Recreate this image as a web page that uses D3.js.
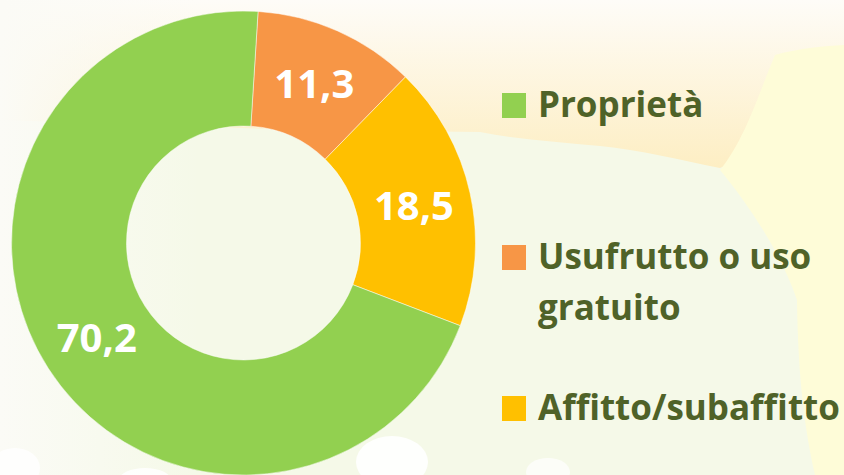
<!DOCTYPE html>
<html>
<head>
<meta charset="utf-8">
<script src="https://cdn.jsdelivr.net/npm/d3@7"></script>
<style>
  html, body { margin: 0; padding: 0; background: #f5f9e8; }
  svg { display: block; }
</style>
</head>
<body>
<svg id="chart" width="844" height="475"></svg>
<script>
// ---- data ----
const categories = ["Proprietà", "Usufrutto o uso gratuito", "Affitto/subaffitto"];
const values = [70.2, 11.3, 18.5];
const valueLabels = ["70,2", "11,3", "18,5"];
const legendLines = [["Proprietà"], ["Usufrutto o uso", "gratuito"], ["Affitto/subaffitto"]];
const colors = ["#92d050", "#f79646", "#ffc000"];
// slice drawing order (clockwise from top): orange, yellow, green
const sliceOrder = [1, 2, 0];

const W = 844, H = 475;
const svg = d3.select("#chart");

// ---- background decoration ----
const defs = svg.append("defs");
const g1 = defs.append("linearGradient").attr("id", "topGrad")
  .attr("x1", 0).attr("y1", 0).attr("x2", 0).attr("y2", 1);
g1.append("stop").attr("offset", "0%").attr("stop-color", "#fefcf8");
g1.append("stop").attr("offset", "100%").attr("stop-color", "#fdeec3");
const g2 = defs.append("linearGradient").attr("id", "leftGrad")
  .attr("x1", 0).attr("y1", 0).attr("x2", 1).attr("y2", 0);
g2.append("stop").attr("offset", "0%").attr("stop-color", "#fbfbf6");
g2.append("stop").attr("offset", "100%").attr("stop-color", "#fbfbf6").attr("stop-opacity", 0);

const bg = svg.append("g");
bg.append("rect").attr("width", W).attr("height", H).attr("fill", "#f5f9e8");
// top warm band
bg.append("path")
  .attr("d", "M0,0 L844,0 L844,150 C800,152 760,150 720,168 C680,160 640,150 600,146 C560,142 520,140 480,132 L300,130 L0,120 Z")
  .attr("fill", "url(#topGrad)");
// left whitish area
bg.append("rect").attr("x", 0).attr("y", 0).attr("width", 200).attr("height", H)
  .attr("fill", "url(#leftGrad)");
// right pale yellow region
bg.append("path")
  .attr("d", "M775,55 C800,48 825,46 844,45 L844,475 L815,475 C805,430 798,380 797,300 C780,250 745,200 720,170 C745,140 760,90 775,55 Z")
  .attr("fill", "#fefcd8");
// white blobs at the bottom
bg.append("ellipse").attr("cx", 392).attr("cy", 462).attr("rx", 36).attr("ry", 26).attr("fill", "#ffffff").attr("opacity", 0.9);
bg.append("ellipse").attr("cx", 145).attr("cy", 480).attr("rx", 26).attr("ry", 12).attr("fill", "#ffffff").attr("opacity", 0.85);
bg.append("ellipse").attr("cx", 548).attr("cy", 472).attr("rx", 22).attr("ry", 14).attr("fill", "#ffffff").attr("opacity", 0.7);
bg.append("ellipse").attr("cx", 15).attr("cy", 468).attr("rx", 25).attr("ry", 20).attr("fill", "#ffffff").attr("opacity", 0.8);

// ---- donut ----
const cx = 243.5, cy = 243, rOuter = 232, rInner = 117;
const startAngle = 3.6 * Math.PI / 180;

const pie = d3.pie()
  .sort(null)
  .value(i => values[i])
  .startAngle(startAngle)
  .endAngle(startAngle + 2 * Math.PI);

const arcs = pie(sliceOrder);
const arc = d3.arc().innerRadius(rInner).outerRadius(rOuter);

const gPie = svg.append("g").attr("transform", `translate(${cx},${cy})`);
gPie.selectAll("path.slice")
  .data(arcs)
  .join("path")
  .attr("class", "slice")
  .attr("d", arc)
  .attr("fill", d => colors[d.data])
  .attr("stroke", "#ffffff")
  .attr("stroke-opacity", 0.6)
  .attr("stroke-width", 0.8);

gPie.selectAll("text.val")
  .data(arcs)
  .join("text")
  .attr("class", "val")
  .attr("transform", d => {
    const [x, y] = arc.centroid(d);
    return `translate(${x},${y})`;
  })
  .attr("text-anchor", "middle")
  .attr("dy", "0.36em")
  .attr("font-family", "'Open Sans', sans-serif")
  .attr("font-weight", "bold")
  .attr("font-size", 40)
  .attr("fill", "#ffffff")
  .text(d => valueLabels[d.data]);

// ---- legend ----
const legendY = [117, 269, 420]; // baselines of first line
const legend = svg.append("g");
categories.forEach((c, i) => {
  const gi = legend.append("g");
  gi.append("rect")
    .attr("x", 502).attr("y", legendY[i] - 24)
    .attr("width", 24).attr("height", 25)
    .attr("fill", colors[i]);
  const t = gi.append("text")
    .attr("x", 538).attr("y", legendY[i])
    .attr("font-family", "'Open Sans', sans-serif")
    .attr("font-weight", "bold")
    .attr("font-size", 35)
    .attr("fill", "#4f6228");
  legendLines[i].forEach((ln, k) => {
    t.append("tspan").attr("x", 538).attr("dy", k === 0 ? 0 : 51).text(ln);
  });
});
</script>
</body>
</html>
